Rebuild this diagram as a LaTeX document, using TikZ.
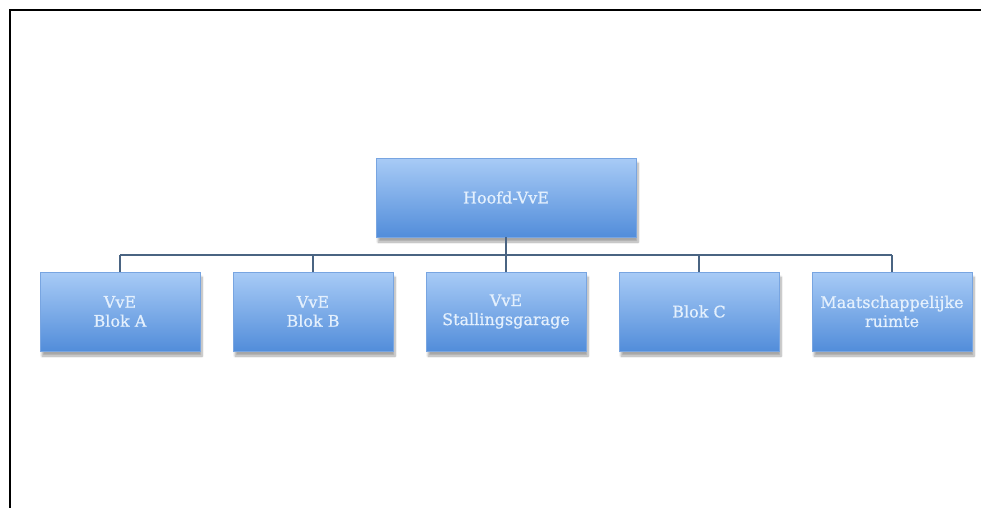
\documentclass[tikz,border=0pt]{standalone}
\usepackage{fontspec}
\setmainfont{DejaVu Serif}
\newfontfamily\boxfont[FakeBold=0.8]{DejaVu Serif}
\usetikzlibrary{shadows.blur}
\definecolor{boxtop}{RGB}{168,203,246}
\definecolor{boxbot}{RGB}{82,141,218}
\definecolor{boxedge}{RGB}{120,165,225}
\definecolor{boxtext}{RGB}{228,240,253}
\definecolor{linkcol}{RGB}{74,100,130}
\tikzset{
  orgbox/.style={rectangle, top color=boxtop, bottom color=boxbot, draw=boxedge, line width=0.6pt,
    minimum height=79pt, inner sep=2pt, align=center, text=boxtext,
    font=\boxfont\fontsize{16}{19}\selectfont,
    blur shadow={shadow xshift=2pt, shadow yshift=-5pt, shadow blur steps=8, shadow opacity=35}},
  childbox/.style={orgbox, minimum width=160pt},
  headbox/.style={orgbox, minimum width=260pt},
  link/.style={draw=linkcol, line width=1.8pt},
  frame/.style={draw=black, line width=2pt}
}
\begin{document}
\begin{tikzpicture}[x=1pt,y=-1pt]
\useasboundingbox (0,0) rectangle (981,508);
\draw[frame] (981,10) -- (10,10) -- (10,508);
\coordinate (bus) at (506,255);
\node[headbox] (hoofd) at (506,197.5) {Hoofd-VvE};
\node[childbox] (a) at (120,311.5) {VvE\\Blok A};
\node[childbox] (b) at (313,311.5) {VvE\\Blok B};
\node[childbox] (s) at (506,311.5) {VvE\\Stallingsgarage};
\node[childbox] (c) at (699,311.5) {Blok C};
\node[childbox] (m) at (892,311.5) {Maatschappelijke\\ruimte};
\draw[link] (hoofd.south) -- (bus);
\draw[link] (a.north |- bus) -- (m.north |- bus);
\foreach \n in {a,b,s,c,m} {\draw[link] (\n.north) -- (\n.north |- bus);}
\end{tikzpicture}
\end{document}
